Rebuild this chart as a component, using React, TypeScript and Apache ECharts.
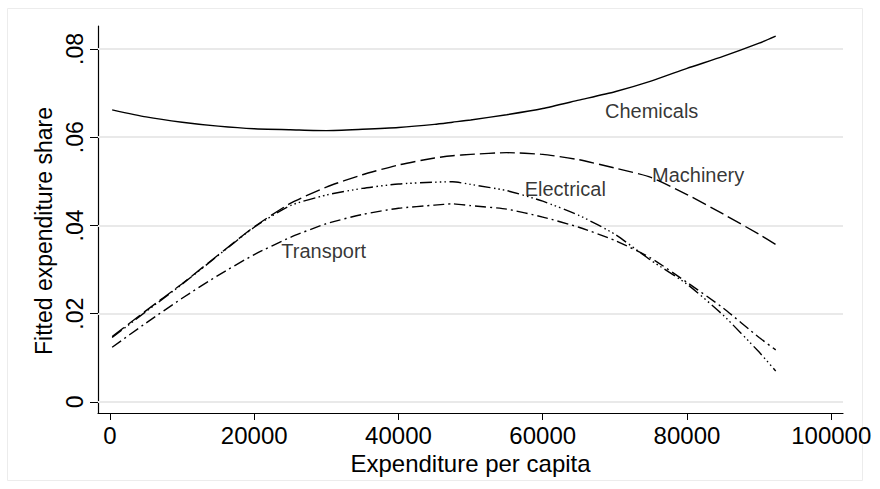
import React, { useEffect, useRef } from "react";
import * as echarts from "echarts";

// Expenditure per capita (x) at which fitted shares were read
const expenditure = [300, 5000, 10000, 15000, 20000, 25000, 30000, 35000, 40000, 45000, 47500, 50000, 55000, 60000, 65000, 70000, 75000, 80000, 85000, 90000, 92300];

const chemicals = [0.0662, 0.0646, 0.0634, 0.0625, 0.0619, 0.0617, 0.0615, 0.0618, 0.0622, 0.0629, 0.0634, 0.0639, 0.0651, 0.0665, 0.0684, 0.0703, 0.0727, 0.0756, 0.0783, 0.0813, 0.0829];
const machinery = [0.0148, 0.0207, 0.0268, 0.0333, 0.0397, 0.045, 0.0487, 0.0515, 0.0537, 0.0553, 0.0558, 0.0561, 0.0565, 0.0561, 0.0549, 0.053, 0.0509, 0.047, 0.0426, 0.038, 0.0357];
const electrical = [0.0146, 0.0205, 0.0267, 0.0332, 0.0396, 0.0445, 0.0469, 0.0484, 0.0494, 0.0498, 0.0499, 0.0493, 0.0479, 0.0455, 0.0423, 0.038, 0.0321, 0.0267, 0.0197, 0.0113, 0.007];
const transport = [0.0124, 0.0179, 0.0235, 0.0287, 0.0334, 0.0373, 0.0404, 0.0425, 0.0439, 0.0446, 0.0449, 0.0445, 0.0437, 0.0419, 0.0396, 0.0366, 0.0326, 0.0271, 0.0213, 0.0146, 0.0118];

const xTicks = [0, 20000, 40000, 60000, 80000, 100000];
const yTicks = [0, 0.02, 0.04, 0.06, 0.08];

const labelNames = ["Chemicals", "Machinery", "Electrical", "Transport"];
const labelX = [68630, 75150, 57500, 23750];
const labelY = [0.06595, 0.05144, 0.0482, 0.03415];

const FONT = "Liberation Sans, Arial, Helvetica, sans-serif";

export default function App() {
  const ref = useRef<HTMLDivElement>(null);

  useEffect(() => {
    if (!ref.current) return;
    const chart = echarts.init(ref.current, null, { renderer: "svg" });

    const pairs = (ys: number[]) => expenditure.map((x, i) => [x, ys[i]]);
    const lineSeries = (name: string, ys: number[], type: any) => ({
      name,
      type: "line",
      data: pairs(ys),
      showSymbol: false,
      smooth: 0.2,
      silent: true,
      lineStyle: { color: "#000", width: 1.4, type },
      z: 3,
    });

    chart.setOption({
      animation: false,
      backgroundColor: "#fff",
      textStyle: { fontFamily: FONT },
      graphic: [
        {
          type: "rect",
          shape: { x: 7.5, y: 8.5, width: 855, height: 472 },
          style: { fill: "none", stroke: "#ececec", lineWidth: 1 },
          silent: true,
          z: -1,
        },
      ],
      grid: { left: 98, right: 37, top: 26, bottom: 76, containLabel: false },
      xAxis: {
        type: "value",
        min: -1664,
        max: 101630,
        name: "Expenditure per capita",
        nameLocation: "middle",
        nameGap: 35,
        nameTextStyle: { fontSize: 24, color: "#000", fontFamily: FONT },
        axisLine: { onZero: false, lineStyle: { color: "#000", width: 1.2 } },
        axisTick: { customValues: xTicks, length: 7, lineStyle: { color: "#000", width: 1 } },
        axisLabel: {
          customValues: xTicks,
          fontSize: 24,
          color: "#000",
          margin: 10,
          fontFamily: FONT,
          formatter: (v: number) => String(v),
        },
        splitLine: { show: false },
      },
      yAxis: {
        type: "value",
        min: -0.0025,
        max: 0.0852,
        name: "Fitted expenditure share",
        nameLocation: "middle",
        nameGap: 38,
        nameTextStyle: { fontSize: 23, color: "#000", fontFamily: FONT, padding: [0, 23, 0, 0] },
        axisLine: { onZero: false, lineStyle: { color: "#000", width: 1.2 } },
        axisTick: { customValues: yTicks, length: 8, lineStyle: { color: "#000", width: 1 } },
        axisLabel: {
          customValues: yTicks,
          rotate: 90,
          fontSize: 23,
          color: "#000",
          margin: 12,
          fontFamily: FONT,
          formatter: (v: number) => (Math.abs(v) < 1e-9 ? "0" : v.toFixed(2).replace(/^0/, "")),
        },
        splitLine: { show: false },
      },
      series: [
        {
          name: "labels",
          type: "scatter",
          symbolSize: 0,
          silent: true,
          data: labelNames.map((n, i) => ({ name: n, value: [labelX[i], labelY[i]] })),
          label: {
            show: true,
            position: "right",
            distance: 0,
            formatter: "{b}",
            fontSize: 20,
            color: "#000",
            fontFamily: FONT,
          },
          markLine: {
            silent: true,
            symbol: "none",
            label: { show: false },
            lineStyle: { color: "#e9e9e9", width: 2, type: "solid" },
            data: yTicks.map((v) => ({ yAxis: v })),
            z: 1,
          },
          z: 4,
        },
        lineSeries("Chemicals", chemicals, "solid"),
        lineSeries("Machinery", machinery, [15, 5]),
        lineSeries("Electrical", electrical, [12, 3.5, 1.5, 3, 1.5, 3, 1.5, 3.5]),
        lineSeries("Transport", transport, [11, 4, 2, 4]),
      ],
    });

    return () => chart.dispose();
  }, []);

  return (
    <div
      ref={ref}
      style={{ position: "absolute", left: 0, top: 0, width: 880, height: 489, background: "#fff" }}
    />
  );
}
